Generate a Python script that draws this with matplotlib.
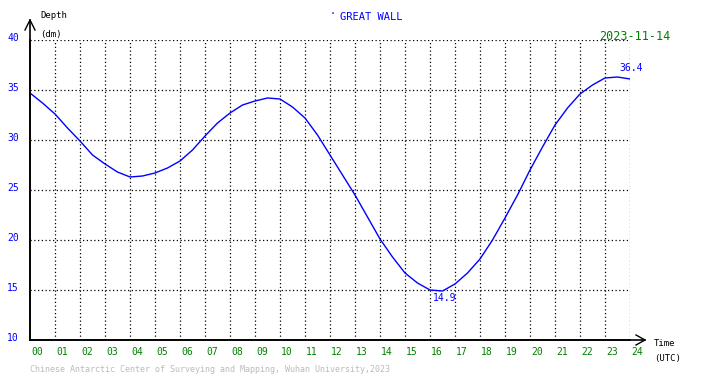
import matplotlib.pyplot as plt
import numpy as np

# tide data, half-hour steps (UTC hours, depth in dm)
hours = [0, 0.5, 1, 1.5, 2, 2.5, 3, 3.5, 4, 4.5, 5, 5.5, 6, 6.5, 7, 7.5, 8, 8.5,
         9, 9.5, 10, 10.5, 11, 11.5, 12, 12.5, 13, 13.5, 14, 14.5, 15, 15.5, 16,
         16.5, 17, 17.5, 18, 18.5, 19, 19.5, 20, 20.5, 21, 21.5, 22, 22.5, 23,
         23.5, 24]
depth = [34.7, 33.7, 32.6, 31.2, 29.9, 28.5, 27.6, 26.8, 26.3, 26.4, 26.7, 27.2,
         27.9, 29.0, 30.4, 31.7, 32.7, 33.5, 33.9, 34.2, 34.1, 33.3, 32.2, 30.5,
         28.5, 26.5, 24.5, 22.3, 20.1, 18.3, 16.7, 15.7, 15.0, 14.9, 15.6, 16.7,
         18.1, 20.0, 22.2, 24.5, 27.0, 29.3, 31.5, 33.2, 34.6, 35.5, 36.2, 36.3,
         36.1]
xticks = ["%02d" % h for h in range(25)]
yticks = [10, 15, 20, 25, 30, 35, 40]
max_label = "36.4"
min_label = "14.9"

W, H = 710, 378
fig = plt.figure(figsize=(W / 100, H / 100), dpi=100)
ax = fig.add_axes([30 / W, (H - 340) / H, 600 / W, 300 / H])
ax.set_xlim(0, 24)
ax.set_ylim(10, 40)

mono = "DejaVu Sans Mono"

# grid
for h in range(1, 25):
    ax.axvline(h, color="black", ls=(0, (1, 2)), lw=0.9)
for v in yticks[1:]:
    ax.axhline(v, color="black", ls=(0, (1, 2)), lw=0.9)

ax.plot(hours, depth, color="blue", lw=1)

for s in ["top", "right"]:
    ax.spines[s].set_visible(False)
ax.spines["left"].set_linewidth(1.2)
ax.spines["bottom"].set_linewidth(1.2)
ax.set_xticks([])
ax.set_yticks([])

# axis arrows
fig.add_artist(plt.Line2D([30 / W, 30 / W], [1 - 340 / H, 1 - 20 / H], color="black", lw=1.2))
fig.add_artist(plt.Line2D([25 / W, 30 / W, 35 / W], [1 - 30 / H, 1 - 20 / H, 1 - 30 / H], color="black", lw=1))
fig.add_artist(plt.Line2D([30 / W, 645 / W], [1 - 340 / H, 1 - 340 / H], color="black", lw=1.2))
fig.add_artist(plt.Line2D([636 / W, 645 / W, 636 / W], [1 - 335 / H, 1 - 340 / H, 1 - 345 / H], color="black", lw=1))

# tick labels
for i, t in enumerate(xticks):
    ax.text(i + 0.05, 10 - 1.2, t, ha="left", va="center",
            fontsize=7, family=mono, color="green")
for v in yticks:
    ax.text(-0.45, v + 0.2, str(v), ha="right", va="center",
            fontsize=7, family=mono, color="blue")

fig.text(40 / W, 1 - 16 / H, "Depth", fontsize=6.5, family=mono, va="center")
fig.text(40 / W, 1 - 34 / H, "(dm)", fontsize=6.5, family=mono, va="center")
fig.text(654 / W, 1 - 344 / H, "Time", fontsize=6.5, family=mono, va="center")
fig.text(654 / W, 1 - 359 / H, "(UTC)", fontsize=6.5, family=mono, va="center")

fig.text(330 / W, 1 - 14 / H, "\u00b7", fontsize=7, family=mono, color="blue", va="center")
fig.text(340 / W, 1 - 17 / H, "GREAT WALL", fontsize=7.5, family=mono, color="blue", va="center")
fig.text(670 / W, 1 - 37 / H, "2023-11-14", fontsize=8.5, family=mono, color="green",
         ha="right", va="center")

imax = int(np.argmax(depth))
imin = int(np.argmin(depth))
ax.text(hours[imax] + 0.55, depth[imax] + 0.4, max_label, fontsize=7, family=mono,
        color="blue", ha="center", va="bottom")
ax.text(hours[imin] + 0.1, depth[imin] - 0.2, min_label, fontsize=7, family=mono,
        color="blue", ha="center", va="top")

fig.text(30 / W, 1 - 370 / H,
         "Chinese Antarctic Center of Surveying and Mapping, Wuhan University,2023",
         fontsize=6, family=mono, color="#bbbbbb", va="center")

fig.savefig("out.png", dpi=100)
